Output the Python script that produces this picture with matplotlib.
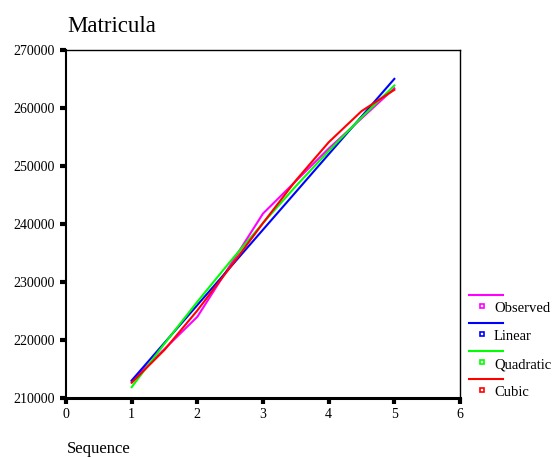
import matplotlib
matplotlib.use("Agg")
import matplotlib.pyplot as plt
from matplotlib.lines import Line2D

# Data
seq_obs = [1, 2, 3, 4, 5]
observed = [212900, 224000, 241800, 253000, 263400]

seq_fit = [1, 1.5, 2, 2.5, 3, 3.5, 4, 4.5, 5]
linear = [213020, 219520, 226020, 232520, 239020, 245520, 252020, 258520, 265020]
quadratic = [211877, 219377, 226592, 233520, 240163, 246520, 252592, 258377, 263877]
cubic = [212627, 218299, 225091, 232536, 240163, 247504, 254091, 259455, 263127]

series_names = ["Observed", "Linear", "Quadratic", "Cubic"]
series_colors = ["#FF00FF", "#0000FF", "#00FF00", "#FF0000"]

xticks = [0, 1, 2, 3, 4, 5, 6]
yticks = [210000, 220000, 230000, 240000, 250000, 260000, 270000]

W, H = 556, 457
fig = plt.figure(figsize=(W / 100, H / 100), dpi=100)
ax = fig.add_axes([66 / W, 1 - 398 / H, (460 - 66) / W, (398 - 50) / H])

serif = "Liberation Serif"

ax.plot(seq_obs, observed, color=series_colors[0], lw=1.5, zorder=3)
ax.plot(seq_fit, linear, color=series_colors[1], lw=1.5, zorder=3)
ax.plot(seq_fit, quadratic, color=series_colors[2], lw=1.5, zorder=3)
ax.plot(seq_fit, cubic, color=series_colors[3], lw=1.5, zorder=4)

ax.set_xlim(0, 6)
ax.set_ylim(210000, 270000)
ax.set_xticks(xticks)
ax.set_yticks(yticks)
ax.set_xticklabels([str(v) for v in xticks], fontfamily=serif, fontsize=10)
ax.set_yticklabels([str(v) for v in yticks], fontfamily=serif, fontsize=10)
ax.tick_params(axis="both", direction="out", length=4, width=3, color="black", pad=4)
ax.tick_params(axis="x", pad=3)

ax.spines["left"].set_linewidth(1.5)
ax.spines["bottom"].set_linewidth(2.2)
ax.spines["top"].set_linewidth(1.0)
ax.spines["right"].set_linewidth(1.0)

fig.text(67 / W, 1 - 27 / H, "Matricula", fontfamily=serif, fontsize=16.5,
         ha="left", va="center")
fig.text(67 / W, 1 - 449 / H, "Sequence", fontfamily=serif, fontsize=12,
         ha="left", va="center")

# Legend drawn manually (line row, then marker + label row)
line_y = [295, 323, 351, 379]
for name, col, ly in zip(series_names, series_colors, line_y):
    fy = 1 - ly / H
    fig.add_artist(Line2D([469 / W, 503 / W], [fy, fy], color=col, lw=1.5,
                          transform=fig.transFigure))
    my = 1 - (ly + 11) / H
    fig.add_artist(Line2D([482 / W], [my], marker="s", markersize=3.5,
                          markerfacecolor="white", markeredgecolor=col,
                          markeredgewidth=1.2, linestyle="none",
                          transform=fig.transFigure))
    fig.text(494 / W, 1 - (ly + 14) / H, name, fontfamily=serif, fontsize=10.5,
             ha="left", va="center")

fig.savefig("out.png", dpi=100)
